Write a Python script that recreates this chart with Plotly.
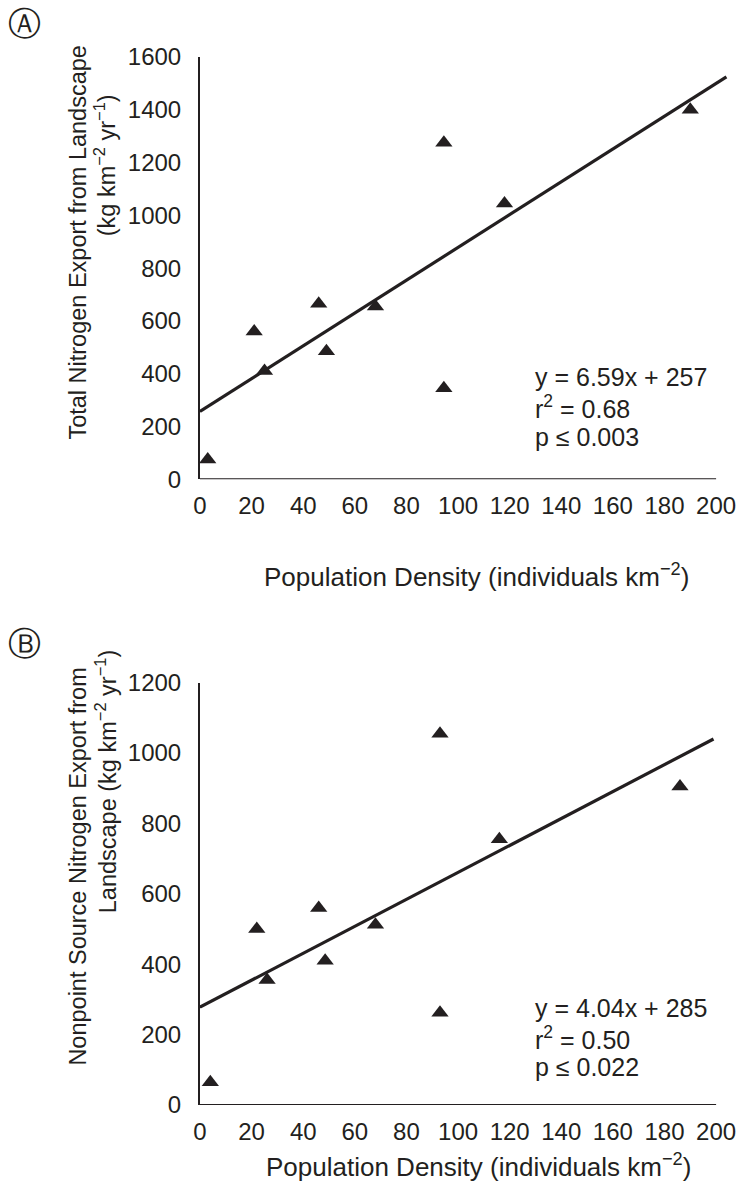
import plotly.graph_objects as go

# ---------------- data ----------------
pop_a = [3, 21, 25, 46, 49, 68, 94.5, 94.5, 118, 190]
tn_a = [75, 560, 410, 665, 485, 655, 1275, 345, 1045, 1400]
trend_a_x = [0, 204]
trend_a_y = [257, 1525]

pop_b = [4, 22, 26, 46, 48.5, 68, 93, 93, 116, 186]
nps_b = [65, 500, 355, 560, 410, 512, 1055, 262, 755, 905]
trend_b_x = [0, 199]
trend_b_y = [278, 1040]

x_ticks = [0, 20, 40, 60, 80, 100, 120, 140, 160, 180, 200]
y_ticks_a = [0, 200, 400, 600, 800, 1000, 1200, 1400, 1600]
y_ticks_b = [0, 200, 400, 600, 800, 1000, 1200]

x_title = "Population Density (individuals km<sup>−2</sup>)"
y_title_a = ["Total Nitrogen Export from Landscape", "(kg km<sup>−2</sup> yr<sup>−1</sup>)"]
y_title_b = ["Nonpoint Source Nitrogen Export from", "Landscape (kg km<sup>−2</sup> yr<sup>−1</sup>)"]

stats_a = ["y = 6.59x + 257", "r<sup>2</sup> = 0.68", "p ≤ 0.003"]
stats_b = ["y = 4.04x + 285", "r<sup>2</sup> = 0.50", "p ≤ 0.022"]

# ---------------- layout geometry ----------------
W, H = 747, 1194
L, R, T, B = 200, 11, 57, 89
PW, PH = W - L - R, H - T - B
INK = "#231f20"
FONT = "Liberation Sans, Arial, Helvetica, sans-serif"
FS_TICK = 24
FS_XT = 26
FS_YT = 23.5
FS_STAT = 25


def px_x(px):
    return (px - L) / PW


def px_y(py):
    return (H - B - py) / PH


dom_a = [px_y(479.3), 1.0]
dom_b = [0.0, px_y(682.7)]

fig = go.Figure()

for xs, ys, tx, ty, xa, ya in [
    (pop_a, tn_a, trend_a_x, trend_a_y, "x", "y"),
    (pop_b, nps_b, trend_b_x, trend_b_y, "x2", "y2"),
]:
    fig.add_trace(go.Scatter(x=tx, y=ty, mode="lines", xaxis=xa, yaxis=ya,
                             line=dict(color=INK, width=3.2), showlegend=False,
                             hoverinfo="skip"))
    fig.add_trace(go.Scatter(x=xs, y=ys, mode="markers", xaxis=xa, yaxis=ya,
                             marker=dict(symbol="triangle-up", size=15, color=INK,
                                         line=dict(width=0)),
                             showlegend=False, cliponaxis=False))

xcommon = dict(range=[0, 205], tickvals=x_ticks, ticks="", showline=False,
               showgrid=False, zeroline=False,
               tickfont=dict(size=FS_TICK, color=INK),
               ticklabelstandoff=10, domain=[0, 1])
ycommon = dict(ticks="", showline=True, linecolor=INK, linewidth=2,
               showgrid=False, zeroline=False,
               tickfont=dict(size=FS_TICK, color=INK),
               ticklabelstandoff=12)

fig.update_layout(
    width=W, height=H,
    margin=dict(l=L, r=R, t=T, b=B),
    plot_bgcolor="white", paper_bgcolor="white",
    font=dict(family=FONT, size=FS_TICK, color=INK),
    xaxis=dict(**xcommon, anchor="y"),
    yaxis=dict(**ycommon, domain=dom_a, range=[0, 1600], tickvals=y_ticks_a,
               anchor="x"),
    xaxis2=dict(**xcommon, anchor="y2"),
    yaxis2=dict(**ycommon, domain=dom_b, range=[0, 1200], tickvals=y_ticks_b,
                anchor="x2"),
)

# x-axis baselines (axis spans 0..200 while the trend line reaches past it)
for xr, yr in [("x", "y"), ("x2", "y2")]:
    fig.add_shape(type="line", xref=xr, yref=yr, x0=x_ticks[0], x1=x_ticks[-1],
                  y0=0, y1=0, line=dict(color=INK, width=2))


def note(text, cx, cy, size, angle=0, xanchor="center", yanchor="middle",
         align="center", family=FONT):
    fig.add_annotation(xref="paper", yref="paper", x=px_x(cx), y=px_y(cy),
                       xanchor=xanchor, yanchor=yanchor, align=align,
                       showarrow=False, textangle=angle, text=text,
                       font=dict(size=size, color=INK, family=family))


# axis titles
note(x_title, 480, 575, FS_XT)
note(x_title, 482, 1165, FS_XT)
note(y_title_a[0], 76, 242, FS_YT, angle=-90)
note(y_title_a[1], 104, 165, FS_YT, angle=-90)
note(y_title_b[0], 76, 867, FS_YT, angle=-90)
note(y_title_b[1], 105, 782, FS_YT, angle=-90)

# regression statistics, one line each
for lines, ys in [(stats_a, [377, 407, 437]), (stats_b, [1008, 1038, 1067])]:
    for txt, cy in zip(lines, ys):
        note(txt, 537, cy, FS_STAT, xanchor="left", align="left")

# panel letters
note("Ⓐ", 22, 23, 33, family="DejaVu Sans")
note("Ⓑ", 22, 643, 33, family="DejaVu Sans")

fig.write_html("out.html")
